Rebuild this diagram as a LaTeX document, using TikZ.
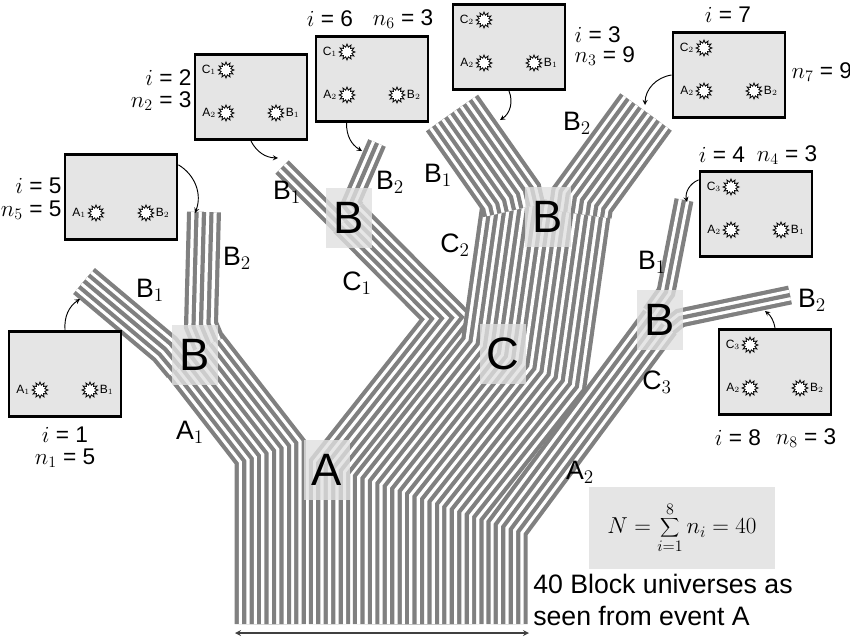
\documentclass[tikz,border=0pt]{standalone}
\usepackage{fontspec}
\setmainfont{Liberation Sans}
\usetikzlibrary{shapes.geometric,calc}
\tikzset{
  bandc/.style={draw=black!50, line join=miter, line cap=butt},
  ubox/.style={draw=black, line width=2.2pt, fill=black!10, minimum width=84pt, minimum height=64pt, inner sep=0pt},
  jbox/.style={fill=black!12, fill opacity=0.8, text opacity=1, minimum width=34pt, minimum height=45pt, font=\fontsize{34}{36}\selectfont, inner sep=0pt},
  lab/.style={font=\fontsize{20}{22}\selectfont, inner sep=1pt},
  ilab/.style={font=\fontsize{17}{19}\selectfont, inner sep=1pt},
  burst/.style={star, star points=12, star point ratio=1.6, minimum size=12pt, draw=black, fill=white, line width=0.6pt, inner sep=0pt},
  slab/.style={font=\fontsize{9}{10}\selectfont, inner sep=0.5pt},
  curv/.style={->, >=stealth, line width=0.7pt},
}
\newcommand\band[2]{%
  \pgfmathtruncatemacro\mm{(#1-1)/2}%
  \foreach \j in {0,...,\mm}{%
    \pgfmathsetmacro\wa{(#1-1-2*\j)*5.58+3.15}%
    \pgfmathsetmacro\wb{(#1-1-2*\j)*5.58-3.15}%
    \draw[bandc, line width=\wa pt] #2;
    \ifdim\wb pt>0pt \draw[bandc, draw=white, line width=\wb pt] #2; \fi
  }}
% universe box: name, center, three star labels (first may be empty)
\newcommand\ubox[5]{%
  \node[ubox] (#1) at #2 {};
  \if\relax\detokenize{#3}\relax\else
    \node[burst] (#1c) at ($(#1)+(-25,-27)$) {};
    \node[slab, anchor=east] at (#1c.west) {#3};
  \fi
  \node[burst] (#1a) at ($(#1)+(-25,16)$) {};
  \node[slab, anchor=east] at (#1a.west) {#4};
  \node[burst] (#1b) at ($(#1)+(25,16)$) {};
  \node[slab, anchor=west] at (#1b.east) {#5};
}
\begin{document}
\begin{tikzpicture}[x=0.75pt,y=-0.75pt]
\useasboundingbox (0,0) rectangle (850,640);
% trunk groups from bottom
\band{10}{(270.3,624)--(270.3,452)--(195,355)}
\band{6}{(329.5,624)--(329.5,466.8)--(447,318)--(348,218)}
\band{18}{(418.3,624)--(418.3,497.6)--(523.7,364)--(547,200)}
\band{6}{(507,624)--(507,528)--(660,322)}
% leaves
\band{5}{(180,367)--(165,349)--(84,281)}
\band{5}{(209,344)--(201,325)--(204,212)}
\band{3}{(340,225)--(282,167)}
\band{3}{(356,209)--(351,203)--(377,143)}
\band{9}{(514,210)--(511,197)--(452,113)}
\band{9}{(580,214)--(582,200)--(646,112)}
\band{3}{(651,313)--(666,292)--(684,200)}
\band{3}{(669,327)--(680,318)--(790,295)}
% junctions
\node[jbox] (jA) at (327,470) {A};
\node[jbox] (jB1) at (195,355) {B};
\node[jbox] (jB2) at (349,218) {B};
\node[jbox] (jC) at (503,354) {C};
\node[jbox] (jB3) at (548,217) {B};
\node[jbox] (jB4) at (660,320) {B};
% branch labels
\node[lab] at (150,290) {B$_1$};
\node[lab] at (237,258) {B$_2$};
\node[lab] at (190,432) {A$_1$};
\node[lab] at (287,192) {B$_1$};
\node[lab] at (390,182) {B$_2$};
\node[lab] at (357,283) {C$_1$};
\node[lab] at (438,175) {B$_1$};
\node[lab] at (455,245) {C$_2$};
\node[lab] at (577,123) {B$_2$};
\node[lab] at (652,262) {B$_1$};
\node[lab] at (812,300) {B$_2$};
\node[lab] at (657,382) {C$_3$};
\node[lab] at (580,472) {A$_2$};
% universe boxes
\ubox{u1}{(65,374)}{}{A$_1$}{B$_1$}
\ubox{u5}{(121,197)}{}{A$_1$}{B$_2$}
\ubox{u2}{(251,97)}{C$_1$}{A$_2$}{B$_1$}
\ubox{u6}{(372,79)}{C$_1$}{A$_2$}{B$_2$}
\ubox{u3}{(509,47)}{C$_2$}{A$_2$}{B$_1$}
\ubox{u7}{(729,75)}{C$_2$}{A$_2$}{B$_2$}
\ubox{u4}{(756,214)}{C$_3$}{A$_2$}{B$_1$}
\ubox{u8}{(775,372)}{C$_3$}{A$_2$}{B$_2$}
% box labels
\node[ilab] at (65,435) {$i$ = 1};
\node[ilab] at (65,458) {$n_1$ = 5};
\node[ilab, anchor=east] at (63,186) {$i$ = 5};
\node[ilab, anchor=east] at (63,210) {$n_5$ = 5};
\node[ilab, anchor=east] at (193,78) {$i$ = 2};
\node[ilab, anchor=east] at (193,101) {$n_2$ = 3};
\node[ilab] at (330,19) {$i$ = 6};
\node[ilab] at (403,19) {$n_6$ = 3};
\node[ilab, anchor=west] at (573,35) {$i$ = 3};
\node[ilab, anchor=west] at (573,56) {$n_3$ = 9};
\node[ilab] at (728,15) {$i$ = 7};
\node[ilab, anchor=west] at (790,72) {$n_7$ = 9};
\node[ilab] at (722,155) {$i$ = 4};
\node[ilab] at (787,155) {$n_4$ = 3};
\node[ilab] at (738,438) {$i$ = 8};
\node[ilab] at (806,438) {$n_8$ = 3};
% pointer arrows
\coordinate (t1) at (80,299);
\coordinate (t5) at (195,213);
\coordinate (t2) at (278,158);
\coordinate (t6) at (362,151);
\coordinate (t3) at (500,120);
\coordinate (t7) at (645,105);
\coordinate (t4) at (687,202);
\coordinate (t8) at (765,311);
\draw[curv] (u1.north) to[bend left=30] (t1);
\draw[curv] ($(u5.north east)+(0,12)$) to[bend left=40] (t5);
\draw[curv] (u2.south) to[bend right=30] (t2);
\draw[curv] ($(u6.south west)+(32,0)$) to[bend right=30] (t6);
\draw[curv] (u3.south) to[bend left=40] (t3);
\draw[curv] (u7.west) to[bend right=40] (t7);
\draw[curv] ($(u4.north west)+(0,10)$) to[bend right=40] (t4);
\draw[curv] (u8.north) to[bend right=20] (t8);
% formula
\node[fill=black!10, minimum width=139pt, minimum height=62pt, font=\fontsize{17}{19}\selectfont] (fm) at (682,528) {$N=\displaystyle\sum_{i=1}^{8} n_i = 40$};
\node[anchor=north west, align=left, font=\fontsize{20}{24}\selectfont, inner sep=0pt] (cap) at (533,574) {40 Block universes as\\seen from event A};
\coordinate (ab1) at (235,633);
\coordinate (ab2) at (529,633);
\draw[<->, >=stealth, line width=1pt, black!75] (ab1) -- (ab2);
\end{tikzpicture}
\end{document}
